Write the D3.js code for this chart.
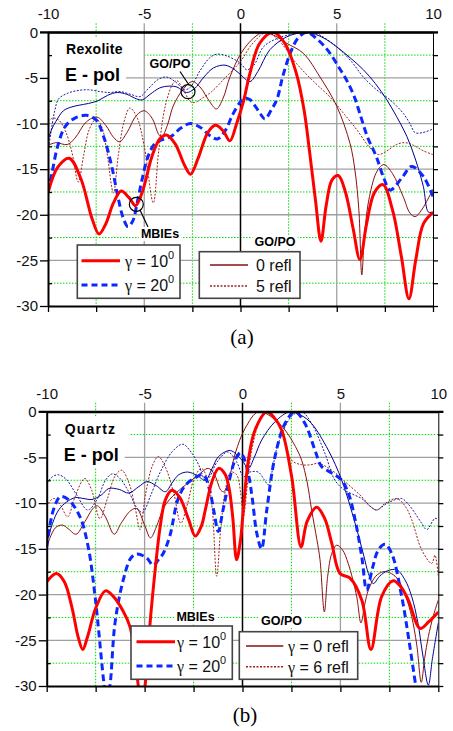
<!DOCTYPE html>
<html>
<head>
<meta charset="utf-8">
<script src="https://cdn.jsdelivr.net/npm/d3@7"></script>
<style>
  body { margin: 0; background: #fff; }
</style>
</head>
<body>
<svg id="chart" width="453" height="731" font-family="Liberation Sans, Arial, sans-serif"></svg>
<script>
// axis values
const xMajor = [-10, -5, 0, 5, 10];
const xMinor = [-7.5, -2.5, 2.5, 7.5];
const yMajor = [0, -5, -10, -15, -20, -25, -30];
const yMinor = [-2.5, -7.5, -12.5, -17.5, -22.5, -27.5];
const allX = [-10, -7.5, -5, -2.5, 0, 2.5, 5, 7.5, 10];
const allY = [0, -2.5, -5, -7.5, -10, -12.5, -15, -17.5, -20, -22.5, -25, -27.5, -30];

// (a) Rexolite
const rexMbie10 = [[-10,-17.6],[-9.5,-14.8],[-8.9,-13.8],[-8.3,-16],[-7.7,-20.5],[-7.35,-22.1],[-7.0,-21],[-6.6,-18.7],[-6.2,-17.4],[-5.8,-18.1],[-5.45,-19.0],[-5.1,-17.5],[-4.6,-13.6],[-4.2,-11.7],[-3.85,-11.25],[-3.4,-12.2],[-2.9,-14.6],[-2.6,-15.55],[-2.2,-13.8],[-1.7,-11],[-1.3,-10.2],[-0.9,-10.8],[-0.55,-11.9],[-0.2,-10],[0.15,-7.6],[0.49,-4.5],[1.0,-1.2],[1.7,0],[2.3,-1.2],[2.9,-4.5],[3.3,-8.5],[3.6,-13.3],[3.9,-18.5],[4.18,-22.9],[4.45,-19],[4.75,-16.2],[5.08,-15.7],[5.45,-17.5],[5.85,-21.5],[6.2,-24.9],[6.55,-21],[6.95,-17.6],[7.4,-16.7],[7.9,-19.5],[8.35,-24.5],[8.75,-29.2],[9.1,-25],[9.5,-21],[10,-19.75]];
const rexMbie20 = [[-10,-17.5],[-9.8,-15.5],[-9.5,-12.5],[-9.1,-10.3],[-8.6,-9.4],[-8.0,-9.1],[-7.5,-9.6],[-7.1,-11.5],[-6.7,-14.6],[-6.35,-18.2],[-6.1,-20.3],[-5.85,-21.3],[-5.6,-20.7],[-5.35,-18.5],[-5.1,-16.0],[-4.8,-13.6],[-4.45,-12.2],[-4.1,-11.8],[-3.6,-11.4],[-3.1,-10.5],[-2.6,-10.0],[-2.1,-10.4],[-1.6,-11.3],[-1.2,-11.7],[-0.8,-10.8],[-0.4,-9],[0,-7.6],[0.2,-7.2],[0.5,-7.4],[0.8,-8.2],[1.05,-9.0],[1.27,-9.5],[1.6,-8.5],[1.9,-7.3],[2.2,-4.8],[2.6,-2.2],[3.0,-0.6],[3.45,0],[3.9,-0.6],[4.3,-1.4],[4.65,-2.3],[5.1,-3.8],[5.5,-5.2],[5.9,-7],[6.2,-8.9],[6.6,-11.5],[7.05,-13.6],[7.45,-16],[7.77,-17.3],[8.37,-16.0],[8.89,-14.7],[9.5,-15.8],[10,-18]];
const rexGo0_10 = [[-10,-12.4],[-9.6,-12.1],[-9.0,-12.3],[-8.6,-11.6],[-8.0,-9.8],[-7.45,-9.3],[-7.0,-10.2],[-6.6,-11.5],[-6.28,-12.0],[-5.9,-11],[-5.4,-9.1],[-5.0,-8.6],[-4.6,-9.4],[-4.25,-11.2],[-4.1,-11.5],[-3.8,-10.2],[-3.5,-8.1],[-3.0,-6.3],[-2.5,-5.4],[-2.1,-6.0],[-1.6,-7.6],[-1.25,-8.4],[-0.9,-7.2],[-0.55,-4.9],[0.03,-2.3],[0.67,-0.65],[1.2,0],[1.8,-0.4],[2.4,-1.2],[3.26,-2.3],[4.13,-4.9],[5.0,-8.1],[5.69,-12.2],[5.95,-15.2],[6.15,-19.5],[6.3,-26.6],[6.45,-22],[6.7,-18],[7.1,-15.2],[7.45,-14.5],[7.9,-15.5],[8.45,-18.0],[8.8,-19.8],[9.07,-20.2],[9.4,-19.5],[10,-17.2]];
const rexGo5_10 = [[-10,-9.8],[-9.75,-9.4],[-9.45,-9.6],[-9.1,-10.8],[-8.75,-13.2],[-8.43,-16.4],[-8.15,-13.5],[-7.85,-10.6],[-7.5,-9.5],[-7.2,-10.4],[-6.95,-13],[-6.6,-17.6],[-6.35,-13.5],[-6.05,-9.8],[-5.75,-8.3],[-5.4,-9.2],[-5.0,-12.5],[-4.53,-18.7],[-4.25,-13],[-3.9,-8],[-3.5,-5.6],[-3.3,-5.3],[-3.0,-6.2],[-2.6,-7.6],[-2.4,-7.7],[-1.9,-7.1],[-1.5,-6.5],[-0.8,-5.0],[0,-3.2],[0.6,-1.3],[1.36,0],[2.0,-0.9],[2.9,-3.4],[3.8,-5.4],[4.65,-7.1],[5.4,-9],[6.05,-10.7],[6.7,-12.6],[7.16,-13.4],[7.6,-13.0],[8.1,-12.3],[8.55,-12.1],[9.0,-12.4],[9.5,-13.0],[10,-13.4]];
const rexGo0_20 = [[-10,-11.8],[-9.8,-10.6],[-9.6,-9.8],[-9.2,-8.6],[-8.8,-8.2],[-8.4,-8.0],[-7.9,-7.8],[-7.4,-7.5],[-6.9,-6.9],[-6.4,-6.6],[-5.9,-6.8],[-5.4,-7.3],[-5.1,-7.4],[-4.7,-6.8],[-4.2,-6.1],[-3.7,-5.9],[-3.3,-6.0],[-2.8,-6.6],[-2.4,-6.2],[-1.9,-4.9],[-1.4,-3.9],[-0.8,-3.6],[-0.3,-4.1],[0.03,-4.7],[0.49,-5.4],[0.9,-4.3],[1.53,-1.9],[2.4,-0.5],[3.0,-0.1],[3.5,0],[4.3,-0.6],[5.0,-1.6],[5.7,-2.8],[6.38,-4.1],[7.0,-5.6],[7.6,-7.4],[8.1,-9.2],[8.64,-11.4],[9.1,-14],[9.5,-16.9],[9.76,-19.7],[10,-19.7]];
const rexGo5_20 = [[-10,-13],[-9.85,-11],[-9.65,-8.6],[-9.45,-7.3],[-9.0,-6.7],[-8.5,-6.4],[-7.9,-6.3],[-7.3,-6.5],[-6.8,-6.6],[-6.26,-6.5],[-5.7,-6.8],[-5.22,-7.05],[-4.8,-6.2],[-4.3,-5.2],[-3.85,-4.9],[-3.4,-5.4],[-2.9,-6.3],[-2.6,-6.0],[-2.1,-4.2],[-1.6,-2.8],[-1.24,-2.4],[-0.7,-2.6],[0,-3.4],[0.32,-4.1],[0.7,-3.6],[1.19,-1.6],[2.0,-0.6],[3.0,-0.1],[3.78,0],[4.5,-0.8],[5.17,-1.9],[5.8,-3.3],[6.38,-4.9],[7.07,-6.3],[7.77,-7.4],[8.46,-8.9],[8.8,-10.0],[9.07,-11.0],[9.45,-11.0],[10,-10.6]];

// (b) Quartz
const quaMbie10 = [[-10,-18.6],[-9.5,-17.7],[-9.1,-18.6],[-8.7,-21.5],[-8.4,-24.6],[-8.16,-26.0],[-7.9,-24.5],[-7.5,-21.5],[-7.0,-19.6],[-6.6,-20.2],[-6.1,-21.8],[-5.75,-23.5],[-5.5,-26.5],[-5.32,-30],[-5.15,-32],[-4.98,-30],[-4.72,-23.1],[-4.47,-17.5],[-4.2,-12.5],[-3.94,-9.65],[-3.6,-8.6],[-3.2,-9.4],[-2.75,-11.8],[-2.41,-13.6],[-2.1,-12.5],[-1.9,-10.75],[-1.56,-7.65],[-1.22,-6.2],[-0.9,-6.8],[-0.7,-8.2],[-0.5,-11.5],[-0.3,-16.2],[-0.1,-14],[0.04,-10.75],[0.3,-5.3],[0.64,-2.0],[1.24,0],[1.6,-0.6],[2.0,-2.0],[2.51,-7.1],[2.99,-14.8],[3.3,-12],[3.79,-10.45],[4.2,-11.7],[4.56,-14.4],[4.98,-17.7],[5.49,-18.2],[6.09,-20.6],[6.56,-26.0],[7.11,-20.2],[7.7,-18.5],[8.1,-19.2],[8.47,-20.6],[9.07,-23.7],[9.5,-23.0],[10,-21.9]];
const quaMbie20 = [[-10,-14.8],[-9.66,-10.75],[-9.3,-9.3],[-8.9,-9.6],[-8.3,-11.5],[-7.88,-14.8],[-7.53,-20.2],[-7.1,-29.3],[-6.95,-32],[-6.77,-30],[-6.51,-23.1],[-6.09,-18.4],[-5.7,-16.0],[-5.4,-15.56],[-4.89,-16.0],[-4.56,-16.8],[-4.3,-16.2],[-4.05,-15.5],[-3.7,-13.5],[-3.3,-9.6],[-2.9,-8.0],[-2.4,-7.2],[-2.0,-6.9],[-1.7,-8.4],[-1.45,-11],[-1.24,-13.1],[-1.0,-10.8],[-0.81,-8.9],[-0.38,-5.3],[-0.1,-4.5],[0.04,-4.9],[0.3,-6.8],[0.5,-9.5],[0.73,-13.3],[0.97,-15.0],[1.24,-10.75],[1.66,-4.9],[2.17,-1.3],[2.68,0],[3.19,-1.3],[3.7,-4.2],[4.04,-6.0],[4.56,-6.7],[5.07,-7.5],[5.45,-9.2],[5.75,-11.8],[6.1,-16],[6.34,-19.5],[6.65,-17],[6.94,-15.1],[7.28,-14.5],[7.62,-15.5],[8.13,-20.2],[8.5,-25],[8.85,-30],[9.0,-32]];
const quaGo0_10 = [[-10,-14.8],[-9.56,-12.7],[-9.2,-12.4],[-8.9,-12.8],[-8.5,-13.4],[-8.1,-12.2],[-7.6,-10.5],[-7.4,-10.3],[-7.0,-11.5],[-6.55,-13.4],[-6.2,-12.2],[-5.7,-10.8],[-5.4,-10.6],[-5.0,-12.4],[-4.7,-13.8],[-4.4,-12.6],[-4.0,-10.4],[-3.45,-9.0],[-2.9,-8.0],[-2.3,-7.0],[-1.75,-6.2],[-1.45,-6.8],[-1.1,-8.6],[-0.95,-8.75],[-0.7,-7.5],[-0.37,-4.55],[0.14,-1.8],[0.81,0],[1.5,-0.6],[2.17,-2.0],[2.7,-3.8],[3.02,-5.3],[3.3,-7.7],[3.53,-10.75],[3.8,-14],[3.96,-16.2],[4.18,-21.9],[4.35,-18],[4.56,-15.5],[4.81,-14.6],[5.1,-15.1],[5.4,-16.6],[5.83,-20.2],[6.05,-23.1],[6.25,-21],[6.43,-19.5],[6.8,-18.0],[7.2,-17.5],[7.6,-17.7],[7.96,-18.4],[8.35,-20.3],[8.64,-22.4],[8.9,-25.5],[9.13,-29.6],[9.3,-27],[9.49,-24.6],[9.75,-22.3],[10,-20.6]];
const quaGo6_10 = [[-10,-10.4],[-9.8,-9.7],[-9.6,-9.5],[-9.3,-10.2],[-8.93,-11.5],[-8.6,-9.6],[-8.2,-7.6],[-8.04,-7.3],[-7.7,-8.6],[-7.28,-11.7],[-6.9,-9.5],[-6.5,-7.0],[-6.17,-6.4],[-5.8,-7.8],[-5.5,-10.3],[-5.23,-12.9],[-4.95,-9],[-4.6,-5.9],[-4.3,-4.9],[-3.95,-6.0],[-3.5,-9.0],[-3.15,-12.2],[-2.8,-10],[-2.45,-7.2],[-2.1,-6.2],[-1.8,-7.3],[-1.55,-10.5],[-1.32,-18],[-1.1,-12.5],[-0.85,-8.3],[-0.6,-6.6],[-0.3,-6.9],[-0.1,-8.8],[0.04,-11.5],[0.25,-8],[0.47,-4.2],[0.98,-0.5],[1.32,0],[2.0,-2.0],[2.51,-5.3],[3.02,-5.8],[3.5,-5.8],[3.87,-5.65],[4.56,-6.4],[5.23,-7.65],[6.09,-9.3],[6.5,-10.3],[6.85,-10.75],[7.3,-10.0],[7.88,-9.5],[8.3,-10.3],[8.64,-11.8],[9.15,-15.1],[9.66,-16.6],[9.83,-15.7],[10,-18.0]];
const quaGo0_20 = [[-10,-14.4],[-9.7,-12.2],[-9.39,-10.75],[-9.0,-9.9],[-8.54,-9.4],[-8.1,-9.5],[-7.69,-9.6],[-7.2,-9.1],[-6.83,-8.4],[-6.3,-8.5],[-5.81,-8.9],[-5.3,-8.2],[-4.88,-7.65],[-4.4,-8.1],[-3.94,-8.75],[-3.6,-7.8],[-3.26,-6.9],[-2.8,-6.6],[-2.3,-7.0],[-1.9,-7.5],[-1.55,-6.2],[-1.22,-4.9],[-0.62,-4.25],[-0.03,-5.3],[0.3,-6.2],[0.6,-5.0],[0.98,-3.1],[1.66,-1.1],[2.43,0],[3.0,-0.4],[3.53,-1.3],[4.38,-4.2],[5.07,-7.5],[5.75,-12.2],[6.2,-15.8],[6.43,-17.7],[6.68,-18.8],[7.0,-18.0],[7.4,-17.4],[7.88,-17.3],[8.3,-18.4],[8.64,-20.2],[8.95,-23],[9.2,-26.5],[9.49,-29.9],[9.7,-27],[10,-23.1]];
const quaGo6_20 = [[-10,-7.8],[-9.7,-7.1],[-9.4,-6.9],[-9.0,-7.4],[-8.5,-9.0],[-7.9,-10.75],[-7.4,-9.5],[-7.0,-7.5],[-6.65,-6.8],[-6.3,-7.2],[-5.8,-8.8],[-5.4,-10.5],[-5.1,-11.0],[-4.7,-9.2],[-4.2,-6.6],[-3.6,-4.4],[-3.05,-3.55],[-2.6,-4.5],[-2.24,-5.8],[-1.9,-7.5],[-1.7,-7.2],[-1.3,-5.5],[-0.75,-4.4],[-0.3,-5.5],[0.06,-7.1],[0.38,-6.6],[0.8,-6.6],[1.1,-7.4],[1.32,-8.0],[1.6,-5.5],[1.83,-3.45],[2.51,-0.5],[3.02,0],[3.53,-1.3],[4.21,-4.55],[4.72,-7.5],[5.23,-8.6],[5.7,-9.1],[6.09,-9.5],[6.5,-10.3],[6.85,-10.75],[7.4,-10.0],[8.13,-9.5],[8.5,-10.2],[8.81,-11.1],[9.15,-12.2],[9.41,-12.9],[9.7,-12.0],[9.83,-11.65],[10,-11.8]];

const styles = {
  mbie10: { stroke: "#ff0000", width: 3, dash: null },
  mbie20: { stroke: "#0a28ff", width: 3, dash: "7,4" },
  go0:    { stroke: "#8a1010", width: 1, dash: null },
  goN:    { stroke: "#a02020", width: 1, dash: "2,1.5" },
  go0b:   { stroke: "#000090", width: 1, dash: null },
  goNb:   { stroke: "#1a1aa0", width: 1, dash: "2,1.5" }
};

const svg = d3.select("#chart");
svg.append("rect").attr("width", 453).attr("height", 731).attr("fill", "#fff");

function drawPanel(p) {
  const g = svg.append("g");
  const x = d3.scaleLinear().domain([-10, 10]).range([p.left, p.right]);
  const y = d3.scaleLinear().domain([0, -30]).range([p.top, p.bottom]);

  // minor grid (green dotted)
  g.selectAll(".gxm").data(xMinor).join("line")
    .attr("x1", d => x(d)).attr("x2", d => x(d))
    .attr("y1", p.top - 9).attr("y2", p.bottom)
    .attr("stroke", "#00dd00").attr("stroke-width", 1).attr("stroke-dasharray", "1.5,1.5");
  g.selectAll(".gym").data(yMinor).join("line")
    .attr("x1", p.left).attr("x2", p.right)
    .attr("y1", d => y(d)).attr("y2", d => y(d))
    .attr("stroke", "#00dd00").attr("stroke-width", 1).attr("stroke-dasharray", "1.5,1.5");
  // major grid (gray)
  g.selectAll(".gxM").data([-5, 5]).join("line")
    .attr("x1", d => x(d)).attr("x2", d => x(d))
    .attr("y1", p.top - 9).attr("y2", p.bottom)
    .attr("stroke", "#a0a0a0").attr("stroke-width", 1.3);
  g.selectAll(".gyM").data(yMajor.slice(1, -1)).join("line")
    .attr("x1", p.left).attr("x2", p.right)
    .attr("y1", d => y(d)).attr("y2", d => y(d))
    .attr("stroke", "#a0a0a0").attr("stroke-width", 1.3);
  g.append("line")
    .attr("x1", x(0)).attr("x2", x(0)).attr("y1", p.top - 9).attr("y2", p.bottom)
    .attr("stroke", "#000").attr("stroke-width", 1.5);

  // material / polarisation labels on white boxes
  g.append("rect").attr("x", p.left + 1).attr("y", p.top + 5).attr("width", p.box1).attr("height", 25).attr("fill", "#fff");
  g.append("rect").attr("x", p.left + 1).attr("y", p.top + 30).attr("width", 77).attr("height", 26).attr("fill", "#fff");
  g.append("text").attr("x", p.left + 18).attr("y", p.top + 22)
    .attr("font-size", 14).attr("font-weight", "bold").attr("letter-spacing", p.spacing)
    .text(p.material);
  g.append("text").attr("x", p.left + 17).attr("y", p.top + 49)
    .attr("font-size", 18).attr("font-weight", "bold").text("E - pol");

  // curves
  const clipId = "clip" + p.id;
  svg.append("clipPath").attr("id", clipId).append("rect")
    .attr("x", p.left).attr("y", p.top).attr("width", p.right - p.left).attr("height", p.bottom - p.top);
  const line = d3.line().x(d => x(d[0])).y(d => y(d[1])).curve(d3.curveCatmullRom.alpha(0.5));
  const cg = g.append("g").attr("clip-path", `url(#${clipId})`);
  p.series.forEach(s => {
    const st = styles[s.style];
    cg.append("path").datum(s.data)
      .attr("d", line)
      .attr("fill", "none")
      .attr("stroke", st.stroke)
      .attr("stroke-width", st.width)
      .attr("stroke-dasharray", st.dash)
      .attr("stroke-linejoin", "round");
  });

  // axes
  const fmt = d => String(d);
  const top = g.append("g").attr("transform", `translate(0,${p.top})`)
    .call(d3.axisTop(x).tickValues(xMajor).tickSize(0).tickPadding(13).tickSizeOuter(0).tickFormat(fmt));
  const left = g.append("g").attr("transform", `translate(${p.left},0)`)
    .call(d3.axisLeft(y).tickValues(yMajor).tickSize(8).tickPadding(2).tickSizeOuter(0).tickFormat(fmt));
  const right = g.append("g").attr("transform", `translate(${p.right},0)`)
    .call(d3.axisRight(y).tickValues(allY).tickSize(5).tickSizeOuter(0).tickFormat(""));
  const bottom = g.append("g").attr("transform", `translate(0,${p.bottom})`)
    .call(d3.axisBottom(x).tickValues(allX).tickSize(6).tickSizeOuter(0).tickFormat(""));
  const inner = g.append("g").attr("transform", `translate(${p.left},0)`)
    .call(d3.axisRight(y).tickValues(yMinor).tickSize(4).tickSizeOuter(0).tickFormat(""));
  inner.select(".domain").remove();
  [top, left, bottom].forEach(a => a.select(".domain").attr("stroke-width", 2));
  [top, left, right, bottom, inner].forEach(a => a.selectAll(".tick line").attr("stroke-width", 1.3));
  [top, left].forEach(a => a.attr("font-family", null).attr("font-size", null)
    .selectAll("text").attr("font-size", 15).attr("fill", "#111"));
  // top axis line extends over the outer ticks
  g.append("line").attr("x1", p.left - 8).attr("x2", p.right + 5).attr("y1", p.top).attr("y2", p.top)
    .attr("stroke", "#000").attr("stroke-width", 2);

  return { x, y, g };
}

function boldLabel(g, cx, cy, txt, size) {
  const t = g.append("text").attr("x", cx).attr("y", cy).attr("text-anchor", "middle")
    .attr("font-size", size).attr("font-weight", "bold").text(txt);
  const b = t.node().getBBox();
  g.insert("rect", () => t.node()).attr("x", b.x - 2).attr("y", b.y).attr("width", b.width + 4)
    .attr("height", b.height).attr("fill", "#fff");
}

function legendBox(g, x0, y0, w, h, rows) {
  g.append("rect").attr("x", x0).attr("y", y0).attr("width", w).attr("height", h)
    .attr("fill", "#fff").attr("stroke", "#444").attr("stroke-width", 1.6);
  rows.forEach(r => {
    const st = styles[r.style];
    g.append("line").attr("x1", r.x1).attr("x2", r.x2).attr("y1", r.y).attr("y2", r.y)
      .attr("stroke", st.stroke).attr("stroke-width", st.width === 1 ? 1.5 : 3)
      .attr("stroke-dasharray", st.dash === null ? null : (st.width === 1 ? "2,1.5" : "6,4"));
    const t = g.append("text").attr("x", r.tx).attr("y", r.y + 6).attr("font-size", 16).attr("fill", "#111");
    if (r.gamma) {
      t.append("tspan").attr("font-family", "Liberation Serif, serif").attr("font-size", 16).text("γ");
      t.append("tspan").text(" = " + r.label);
    } else {
      t.append("tspan").text(r.label);
    }
    if (r.sup) t.append("tspan").attr("dy", -8).attr("font-size", 11).text(r.sup);
  });
}

// panel (a)
const pa = drawPanel({
  id: "a", left: 48, right: 433, top: 32.3, bottom: 306,
  material: "Rexolite", spacing: 0.3, box1: 94,
  series: [
    { data: rexGo5_10, style: "goN" },
    { data: rexGo0_10, style: "go0" },
    { data: rexGo5_20, style: "goNb" },
    { data: rexGo0_20, style: "go0b" },
    { data: rexMbie20, style: "mbie20" },
    { data: rexMbie10, style: "mbie10" }
  ]
});
pa.g.append("circle").attr("cx", 188).attr("cy", 91.7).attr("r", 7).attr("fill", "none").attr("stroke", "#000").attr("stroke-width", 1.2);
pa.g.append("line").attr("x1", 180).attr("y1", 71.5).attr("x2", 189).attr("y2", 85).attr("stroke", "#000").attr("stroke-width", 1.2);
pa.g.append("text").attr("x", 170).attr("y", 68).attr("text-anchor", "middle").attr("font-size", 12.5).attr("font-weight", "bold").text("GO/PO");
pa.g.append("circle").attr("cx", 136.3).attr("cy", 204.3).attr("r", 7).attr("fill", "none").attr("stroke", "#000").attr("stroke-width", 1.2);
pa.g.append("line").attr("x1", 140).attr("y1", 210).attr("x2", 148).attr("y2", 227).attr("stroke", "#000").attr("stroke-width", 1.2);
boldLabel(pa.g, 160, 238, "MBIEs", 12.5);
boldLabel(pa.g, 275, 246, "GO/PO", 12.5);
legendBox(pa.g, 77.3, 245, 102.7, 53.3, [
  { style: "mbie10", x1: 81.5, x2: 120, y: 260.7, tx: 125, gamma: true, label: "10", sup: "0" },
  { style: "mbie20", x1: 81.5, x2: 120, y: 285, tx: 125, gamma: true, label: "20", sup: "0" }
]);
legendBox(pa.g, 199.3, 251.7, 100.7, 46.6, [
  { style: "go0", x1: 210, x2: 248, y: 265, tx: 256, label: "0 refl" },
  { style: "goN", x1: 210, x2: 248, y: 286, tx: 256, label: "5 refl" }
]);
svg.append("text").attr("x", 242).attr("y", 344).attr("text-anchor", "middle")
  .attr("font-family", "Liberation Serif, serif").attr("font-size", 21).text("(a)");

// panel (b)
const pb = drawPanel({
  id: "b", left: 46.7, right: 438.3, top: 411.7, bottom: 686,
  material: "Quartz", spacing: 1.2, box1: 82,
  series: [
    { data: quaGo6_10, style: "goN" },
    { data: quaGo0_10, style: "go0" },
    { data: quaGo6_20, style: "goNb" },
    { data: quaGo0_20, style: "go0b" },
    { data: quaMbie20, style: "mbie20" },
    { data: quaMbie10, style: "mbie10" }
  ]
});
boldLabel(pb.g, 195.5, 621, "MBIEs", 12.5);
boldLabel(pb.g, 281.5, 625, "GO/PO", 12.5);
legendBox(pb.g, 131, 626, 101.3, 53.3, [
  { style: "mbie10", x1: 136.5, x2: 175, y: 641.7, tx: 177, gamma: true, label: "10", sup: "0" },
  { style: "mbie20", x1: 136.5, x2: 175, y: 666, tx: 177, gamma: true, label: "20", sup: "0" }
]);
legendBox(pb.g, 239.3, 631.7, 118.4, 47.6, [
  { style: "go0", x1: 246, x2: 283.3, y: 646, tx: 288, gamma: true, label: "0 refl" },
  { style: "goN", x1: 246, x2: 283.3, y: 666.7, tx: 288, gamma: true, label: "6 refl" }
]);
svg.append("text").attr("x", 245).attr("y", 722).attr("text-anchor", "middle")
  .attr("font-family", "Liberation Serif, serif").attr("font-size", 21).text("(b)");
</script>
</body>
</html>
